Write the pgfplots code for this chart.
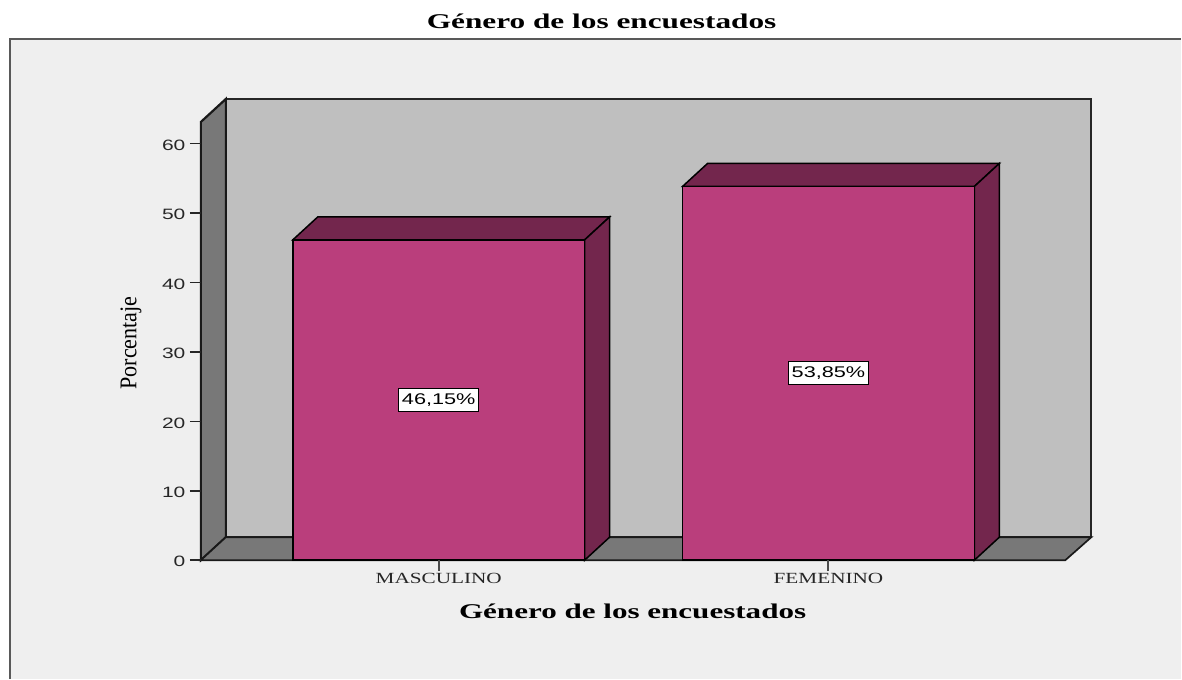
\documentclass[border=0pt]{standalone}
\usepackage{fontspec}
\usepackage{pgfplots}
\pgfplotsset{compat=1.18}
\setmainfont{Liberation Serif}
\newfontfamily\tickfont[FakeStretch=1.4]{Liberation Sans}
\newfontfamily\catfont[FakeStretch=1.37]{Liberation Serif}
\newfontfamily\titlefont[FakeStretch=1.49]{Liberation Serif Bold}
\newfontfamily\xlabfont[FakeStretch=1.48]{Liberation Serif Bold}
\newfontfamily\yfont[FakeStretch=0.92]{Liberation Serif}
\definecolor{panel}{RGB}{239,239,239}
\definecolor{wall}{RGB}{191,191,191}
\definecolor{floorc}{RGB}{120,120,120}
\definecolor{barfront}{RGB}{186,62,124}
\definecolor{barside}{RGB}{115,38,77}

\pgfplotstableread{
x y
439 46.15
829 53.85
}\bars

\begin{document}
\begin{tikzpicture}
\begin{axis}[
    scale only axis,
    width=865pt,
    height=438.5pt,
    xmin=201, xmax=1066,
    ymin=0, ymax=63.14,
    clip=false,
    axis line style={draw=none},
    axis on top,
    tick align=outside,
    major tick length=11pt,
    tick style={black!85, line width=1.5pt},
    xtick style={black!70, line width=2pt},
    xtick pos=bottom,
    ytick pos=left,
    xtick={439,829},
    xticklabels={MASCULINO,FEMENINO},
    ytick={0,10,20,30,40,50,60},
    /pgf/number format/assume math mode=true,
    yticklabel style={font=\tickfont\fontsize{15}{15}\selectfont, text=black!85, xshift=-1pt, yshift=-1.5pt},
    xticklabel style={font=\catfont\fontsize{15.5}{15}\selectfont, text=black!85, yshift=1pt},
    title={Género de los encuestados},
    title style={at={(axis cs:602,80.7)}, anchor=north, yshift=-20pt, inner sep=0pt, font=\titlefont\fontsize{21}{21}\selectfont},
    xlabel={Género de los encuestados},
    xlabel style={at={(axis cs:633,-7.35)}, anchor=center, inner sep=0pt, font=\xlabfont\fontsize{21}{21}\selectfont},
    ylabel={Porcentaje},
    ylabel style={at={(axis cs:131,31.3)}, anchor=center, rotate=0, inner sep=0pt, font=\yfont\fontsize{24}{24}\selectfont},
]
% page and panel
\addplot[fill=white, draw=none] coordinates {(0,-17.06) (1182,-17.06) (1182,80.71) (0,80.71)} -- cycle;
\addplot[fill=panel, draw=none] coordinates {(10,-17.06) (1182,-17.06) (1182,75.09) (10,75.09)} -- cycle;
\addplot[draw=black!65, line width=1.5pt] coordinates {(10,-17.06) (10,75.09) (1182,75.09)};
% walls and floor
\addplot[fill=wall, draw=black!85, line width=2pt] coordinates {(226,3.31) (1092,3.31) (1092,66.45) (226,66.45)} -- cycle;
\addplot[fill=floorc, draw=black!90, line width=2.2pt] coordinates {(201,0) (226,3.31) (226,66.45) (201,63.14)} -- cycle;
\addplot[fill=floorc, draw=black!90, line width=1.7pt] coordinates {(201,0) (1066,0) (1092,3.31) (226,3.31)} -- cycle;
% bars
\addplot[fill=barside, draw=black, line width=1.5pt] coordinates {(293,46.15) (318,49.46) (610,49.46) (585,46.15)} -- cycle;
\addplot[fill=barside, draw=black, line width=1.5pt] coordinates {(585,0) (610,3.31) (610,49.46) (585,46.15)} -- cycle;
\addplot[fill=barside, draw=black, line width=1.5pt] coordinates {(683,53.85) (708,57.16) (1000,57.16) (975,53.85)} -- cycle;
\addplot[fill=barside, draw=black, line width=1.5pt] coordinates {(975,0) (1000,3.31) (1000,57.16) (975,53.85)} -- cycle;
\addplot[ybar, bar width=292pt, bar shift=0pt, fill=barfront, draw=black, line width=1.5pt] table[x=x, y=y] {\bars};
\node[fill=white, draw=black, line width=1pt, inner sep=0pt, minimum width=80pt, minimum height=23pt, font=\tickfont\fontsize{15.5}{15}\selectfont] at (axis cs:439,23.1) {46,15\%};
\node[fill=white, draw=black, line width=1pt, inner sep=0pt, minimum width=80pt, minimum height=23pt, font=\tickfont\fontsize{15.5}{15}\selectfont] at (axis cs:829,26.95) {53,85\%};
\end{axis}
\end{tikzpicture}
\end{document}
